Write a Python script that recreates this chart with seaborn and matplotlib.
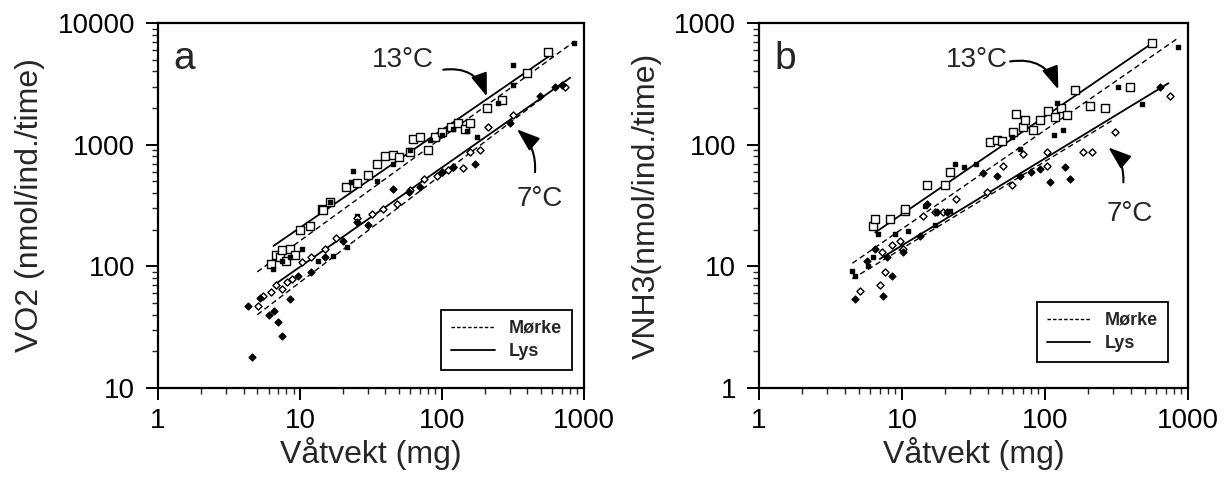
import numpy as np
import pandas as pd
import matplotlib
matplotlib.use("Agg")
import matplotlib.pyplot as plt
from matplotlib.lines import Line2D
from matplotlib.ticker import LogLocator, NullFormatter, FixedLocator, FixedFormatter
import seaborn as sns

# ---------------- data ----------------
# Panel a : VO2 (nmol/ind./time) vs wet weight (mg)
a_w13_lys = [6.2, 6.8, 7.2, 7.5, 8.0, 8.5, 9.2, 10, 11.8, 14.3, 14.5, 16.3, 21, 25, 30, 35, 40, 45, 50, 60, 62, 70, 80, 90, 100, 115, 130, 145, 158, 207, 265, 397, 557]
a_y13_lys = [105, 125, 120, 135, 110, 140, 125, 200, 215, 296, 290, 338, 450, 480, 560, 700, 800, 830, 790, 870, 1120, 1160, 900, 1150, 1260, 1400, 1510, 1350, 1500, 1985, 2350, 3910, 5810]
a_w13_mor = [6.5, 7.5, 8.5, 10.3, 13.4, 16.3, 17, 21.4, 23, 23.6, 25, 35, 45, 60, 82, 100, 120, 150, 176, 250, 316, 316, 850]
a_y13_mor = [95, 110, 120, 140, 111, 338, 122, 145, 493, 604, 260, 500, 700, 900, 1100, 1200, 1350, 1300, 1150, 2200, 3120, 4540, 6800]
a_w7_lys = [5.1, 5.5, 6.2, 6.8, 7.5, 8.1, 8.8, 10.3, 12, 15, 18, 25, 32, 38.5, 48, 60, 75, 92, 100, 110, 120, 140, 158, 185, 210, 316, 735]
a_y7_lys = [47, 57, 62, 70, 65, 75, 79, 109, 120, 140, 170, 250, 270, 296, 325, 420, 520, 550, 600, 620, 660, 640, 870, 910, 1410, 1740, 3000]
a_w7_mor = [4.3, 4.6, 5.2, 6.0, 6.6, 7.0, 7.5, 8.5, 9.7, 12, 15, 20, 25, 30, 45, 59, 70, 100, 120, 170, 300, 490, 625, 700]
a_y7_mor = [47, 18, 55, 40, 42.6, 35, 27, 54, 84, 90, 120, 160, 230, 220, 431, 410, 450, 600, 650, 690, 1500, 2535, 3000, 3100]
# fitted regression lines (end points)
a_l13_lys_w = [6.5, 600]
a_l13_lys_y = [147, 5570]
a_l13_mor_w = [5, 850]
a_l13_mor_y = [90, 7000]
a_l7_lys_w = [7, 800]
a_l7_lys_y = [74, 3550]
a_l7_mor_w = [5, 500]
a_l7_mor_y = [40, 2380]

# Panel b : VNH3 (nmol/ind./time) vs wet weight (mg)
b_w13_lys = [6.3, 6.5, 8.2, 10.5, 10.5, 15, 20, 21.7, 41, 46, 50, 60, 63, 70, 72, 82, 92, 105, 118, 130, 142, 162, 207, 264, 393, 560]
b_y13_lys = [21.5, 24.5, 24.5, 28.5, 29.7, 47, 47, 60, 105, 110, 107, 126, 177, 140, 160, 132, 160, 190, 170, 200, 175, 279, 206, 202, 295, 687]
b_w13_mor = [4.5, 4.7, 5.8, 6.3, 6.8, 8.9, 11, 14.5, 17, 21.7, 23.5, 27, 33, 59, 67, 115, 121, 133, 324, 476, 850]
b_y13_mor = [9.2, 8.4, 10, 12, 18.5, 18.5, 19.6, 31.4, 22, 28.5, 69, 65, 69, 115, 92, 121, 220, 133, 295, 214, 638]
b_w7_lys = [5.1, 7, 7.6, 7.2, 8.5, 9.7, 10.2, 14, 17, 19.4, 24, 39, 51, 59, 70, 103, 103, 185, 212, 309, 748]
b_y7_lys = [6.3, 7, 9, 13, 15, 16, 14, 26, 28, 28, 36, 41, 67, 47, 84, 67, 87, 86.7, 86.7, 126, 253]
b_w7_mor = [4.7, 5.7, 6.5, 7.4, 7.8, 8.5, 10.2, 13.4, 15, 17.6, 20.6, 36.7, 46, 67, 80, 92, 108, 138, 149, 637]
b_y7_mor = [5.4, 11, 14, 5.7, 12, 8.4, 13.2, 17.8, 32.6, 28, 28, 59, 55, 55, 60, 63, 49, 65, 52, 300]
b_l13_lys_w = [6.5, 570]
b_l13_lys_y = [19, 690]
b_l13_mor_w = [4.5, 850]
b_l13_mor_y = [10.6, 750]
b_l7_lys_w = [7, 730]
b_l7_lys_y = [11.5, 320]
b_l7_mor_w = [4.5, 300]
b_l7_mor_y = [7.9, 160]

x_ticks = [1, 10, 100, 1000]
x_ticklabels = ["1", "10", "100", "1000"]
a_yticks = [10, 100, 1000, 10000]
a_yticklabels = ["10", "100", "1000", "10000"]
b_yticks = [1, 10, 100, 1000]
b_yticklabels = ["1", "10", "100", "1000"]

# ---------------- styling ----------------
sns.set_style("ticks")
plt.rcParams["font.family"] = ["Liberation Sans", "DejaVu Sans"]
plt.rcParams["axes.linewidth"] = 1.6

fig = plt.figure(figsize=(12.24, 4.79), dpi=100)
ax_a = fig.add_axes([0.1291, 0.190, 0.348, 0.762])
ax_b = fig.add_axes([0.6201, 0.190, 0.3505, 0.762])


def draw_panel(ax, groups, lines, ylim, yticks, yticklabels, ylabel, letter, ann, leg_anchor):
    for (w, y, marker, face, size) in groups:
        df = pd.DataFrame({"w": w, "y": y})
        sns.scatterplot(data=df, x="w", y="y", ax=ax, marker=marker, s=size,
                        facecolor=face, edgecolor="black", linewidth=1.0,
                        legend=False, zorder=3)
    for (w, y, ls) in lines:
        df = pd.DataFrame({"w": w, "y": y})
        sns.lineplot(data=df, x="w", y="y", ax=ax, color="black",
                     linewidth=1.3 if ls == "-" else 1.0, legend=False, zorder=2)
        if ls == "--":
            ax.lines[-1].set_dashes((4, 2.5))
    ax.set_xscale("log")
    ax.set_yscale("log")
    ax.set_xlim(1, 1000)
    ax.set_ylim(*ylim)
    ax.xaxis.set_major_locator(FixedLocator(x_ticks))
    ax.xaxis.set_major_formatter(FixedFormatter(x_ticklabels))
    ax.yaxis.set_major_locator(FixedLocator(yticks))
    ax.yaxis.set_major_formatter(FixedFormatter(yticklabels))
    ax.xaxis.set_minor_locator(LogLocator(base=10, subs=np.arange(2, 10)))
    ax.yaxis.set_minor_locator(LogLocator(base=10, subs=np.arange(2, 10)))
    ax.xaxis.set_minor_formatter(NullFormatter())
    ax.yaxis.set_minor_formatter(NullFormatter())
    ax.tick_params(which="major", direction="out", length=8.5, width=1.4,
                   labelsize=20, colors="black")
    ax.tick_params(axis="y", which="major", pad=8)
    ax.tick_params(axis="x", which="major", pad=6)
    ax.tick_params(which="minor", direction="out", length=4.5, width=1.0)
    for s in ax.spines.values():
        s.set_visible(True)
        s.set_color("black")
    ax.set_xlabel("Våtvekt (mg)", fontsize=23, labelpad=2)
    ax.set_ylabel(ylabel, fontsize=23, labelpad=9)
    ax.text(0.036, 0.875, letter, transform=ax.transAxes, fontsize=28,
            va="baseline", ha="left")
    for (txt, xy_text, xy_start, xy_tip, rad) in ann:
        ax.text(xy_text[0], xy_text[1], txt, fontsize=20, ha="center", va="center")
        ax.annotate("", xy=xy_tip, xytext=xy_start,
                    arrowprops=dict(arrowstyle="-|>,head_length=1.4,head_width=0.5",
                                    color="black", lw=1.5, shrinkA=0, shrinkB=0,
                                    connectionstyle=f"arc3,rad={rad}"))
    handles = [Line2D([], [], color="black", lw=1.0, ls=(0, (2.5, 1.5))),
               Line2D([], [], color="black", ls="-", lw=1.3)]
    leg = ax.legend(handles, ["Mørke", "Lys"], loc="lower right",
                    prop={"weight": "bold", "size": 13}, frameon=True, fancybox=False,
                    edgecolor="black", handlelength=2.4, handletextpad=0.8,
                    borderpad=0.55, labelspacing=0.35, borderaxespad=0,
                    bbox_to_anchor=leg_anchor, framealpha=1)
    leg.get_frame().set_linewidth(1.3)


draw_panel(
    ax_a,
    [(a_w13_lys, a_y13_lys, "s", "white", 32),
     (a_w13_mor, a_y13_mor, "s", "black", 9),
     (a_w7_lys, a_y7_lys, "D", "white", 13),
     (a_w7_mor, a_y7_mor, "D", "black", 12)],
    [(a_l13_lys_w, a_l13_lys_y, "-"), (a_l13_mor_w, a_l13_mor_y, "--"),
     (a_l7_lys_w, a_l7_lys_y, "-"), (a_l7_mor_w, a_l7_mor_y, "--")],
    (10, 10000), a_yticks, a_yticklabels, "VO2 (nmol/ind./time)", "a",
    [("13°C", (53, 4990), (102, 4130), (207, 2490), -0.4),
     ("7°C", (490, 357), (452, 594), (337, 1337), 0.25)],
    (0.972, 0.049),
)

draw_panel(
    ax_b,
    [(b_w13_lys, b_y13_lys, "s", "white", 32),
     (b_w13_mor, b_y13_mor, "s", "black", 9),
     (b_w7_lys, b_y7_lys, "D", "white", 13),
     (b_w7_mor, b_y7_mor, "D", "black", 12)],
    [(b_l13_lys_w, b_l13_lys_y, "-"), (b_l13_mor_w, b_l13_mor_y, "--"),
     (b_l7_lys_w, b_l7_lys_y, "-"), (b_l7_mor_w, b_l7_mor_y, "--")],
    (1, 1000), b_yticks, b_yticklabels, "VNH3(nmol/ind./time)", "b",
    [("13°C", (33.5, 499), (57, 483), (124, 284), -0.4),
     ("7°C", (393, 27), (353, 49), (277, 95), 0.25)],
    (0.953, 0.071),
)

fig.savefig("out.png", dpi=100, facecolor="white")
